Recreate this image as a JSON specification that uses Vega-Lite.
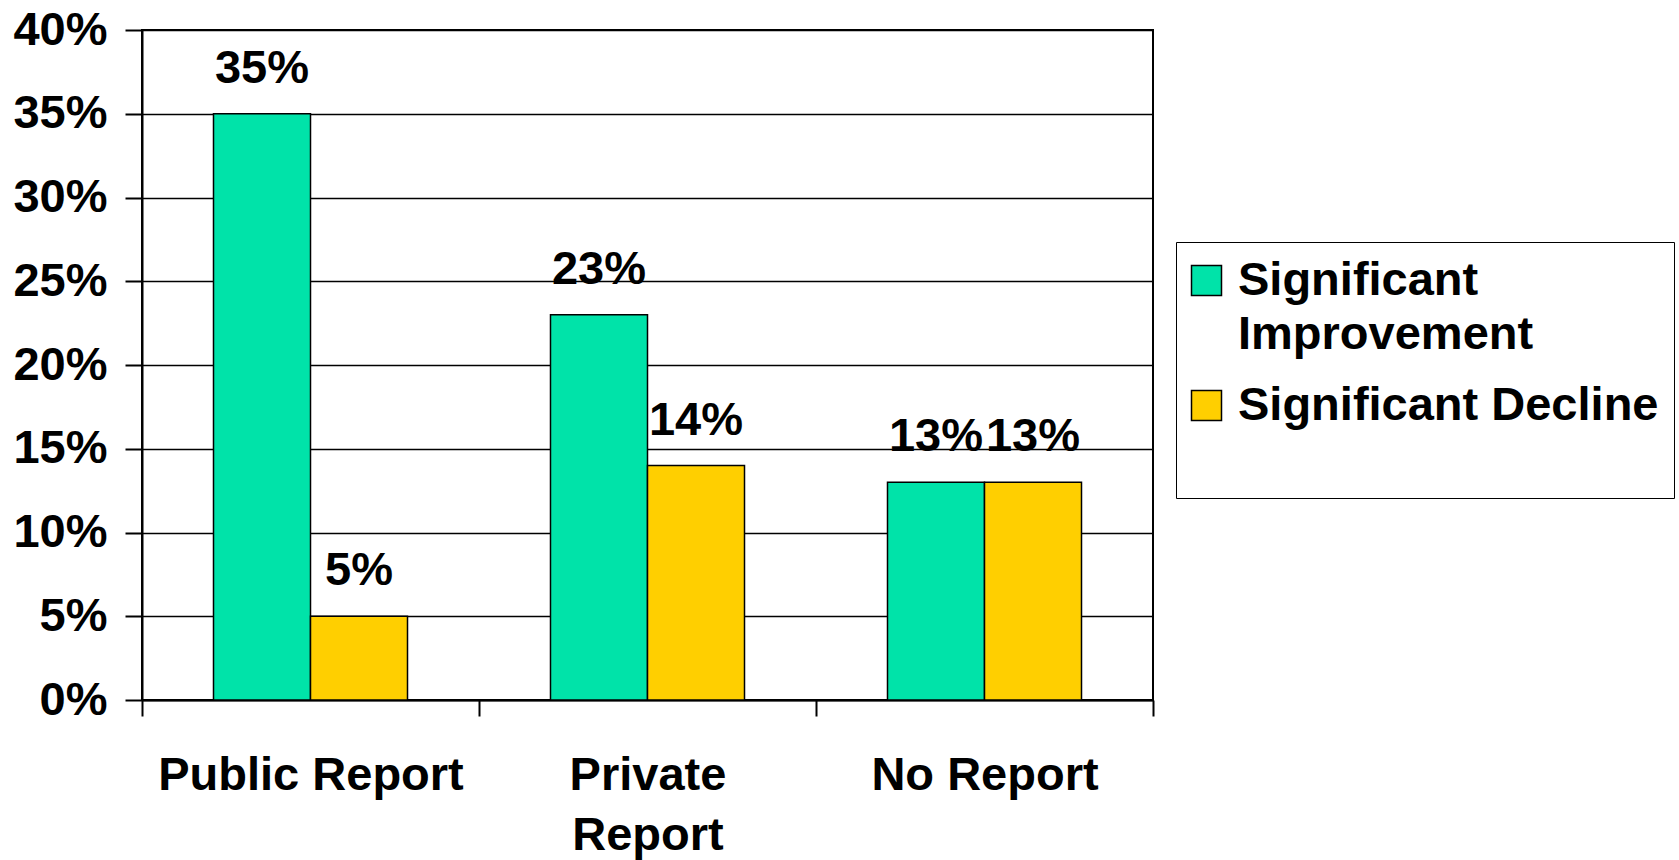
{
  "$schema": "https://vega.github.io/schema/vega-lite/v6.json",
  "width": 1011,
  "height": 670,
  "autosize": {"type": "none"},
  "padding": {"left": 142, "top": 30, "right": 526, "bottom": 160},
  "background": "white",
  "config": {
    "view": {"stroke": "black", "strokeWidth": 2},
    "font": "Liberation Sans"
  },
  "data": {
    "values": [
      {"report": "Public Report", "series": "Significant Improvement", "value": 0.35},
      {"report": "Public Report", "series": "Significant Decline", "value": 0.05},
      {"report": "Private Report", "series": "Significant Improvement", "value": 0.23},
      {"report": "Private Report", "series": "Significant Decline", "value": 0.14},
      {"report": "No Report", "series": "Significant Improvement", "value": 0.13},
      {"report": "No Report", "series": "Significant Decline", "value": 0.13}
    ]
  },
  "encoding": {
    "x": {
      "field": "report",
      "type": "nominal",
      "sort": ["Public Report", "Private Report", "No Report"],
      "scale": {"paddingInner": 0, "paddingOuter": 0},
      "axis": {
        "title": null,
        "tickBand": "extent",
        "tickSize": 16,
        "tickColor": "black",
        "tickWidth": 2,
        "domainColor": "black",
        "domainWidth": 2,
        "labelAngle": 0,
        "labelFont": "Liberation Sans",
        "labelFontSize": 47,
        "labelFontWeight": "bold",
        "labelColor": "black",
        "labelPadding": 36,
        "labelLineHeight": 60,
        "labelLimit": 0,
        "labelOverlap": false,
        "labelExpr": "datum.label == 'Private Report' ? ['Private', 'Report'] : datum.label"
      }
    },
    "xOffset": {
      "field": "series",
      "type": "nominal",
      "sort": ["Significant Improvement", "Significant Decline"],
      "scale": {"paddingInner": 0, "paddingOuter": 0.737}
    },
    "y": {
      "field": "value",
      "type": "quantitative",
      "scale": {"domain": [0, 0.4], "nice": false},
      "axis": {
        "title": null,
        "values": [0, 0.05, 0.1, 0.15, 0.2, 0.25, 0.3, 0.35, 0.4],
        "format": ".0%",
        "tickSize": 17,
        "tickColor": "black",
        "tickWidth": 2,
        "domainColor": "black",
        "domainWidth": 2,
        "grid": true,
        "gridColor": "black",
        "gridWidth": 1.5,
        "gridOpacity": 1,
        "labelFont": "Liberation Sans",
        "labelFontSize": 47,
        "labelFontWeight": "bold",
        "labelColor": "black",
        "labelPadding": 18,
        "labelOverlap": false
      }
    }
  },
  "layer": [
    {
      "mark": {"type": "bar", "stroke": "black", "strokeWidth": 1.5},
      "encoding": {
        "color": {
          "field": "series",
          "type": "nominal",
          "sort": ["Significant Improvement", "Significant Decline"],
          "scale": {
            "domain": ["Significant Improvement", "Significant Decline"],
            "range": ["#00E3A9", "#FFCF00"]
          },
          "legend": {
            "title": null,
            "orient": "none",
            "legendX": 1034,
            "legendY": 212,
            "symbolType": "square",
            "symbolSize": 900,
            "symbolStrokeColor": "black",
            "symbolStrokeWidth": 1.5,
            "symbolOffset": -8,
            "labelFont": "Liberation Sans",
            "labelFontSize": 47,
            "labelFontWeight": "bold",
            "labelColor": "black",
            "labelLimit": 0,
            "labelOffset": 8,
            "strokeColor": "black",
            "fillColor": "white",
            "padding": 15,
            "rowPadding": 23,
            "labelExpr": "datum.label == 'Significant Improvement' ? ['Significant', 'Improvement'] : [datum.label, ' ']",
            "encode": {"labels": {"update": {"lineHeight": {"value": 54}}}}
          }
        }
      }
    },
    {
      "mark": {
        "type": "text",
        "dy": -31,
        "baseline": "alphabetic",
        "align": "center",
        "font": "Liberation Sans",
        "fontSize": 47,
        "fontWeight": "bold",
        "color": "black"
      },
      "encoding": {
        "text": {"field": "value", "type": "quantitative", "format": ".0%"}
      }
    }
  ]
}
